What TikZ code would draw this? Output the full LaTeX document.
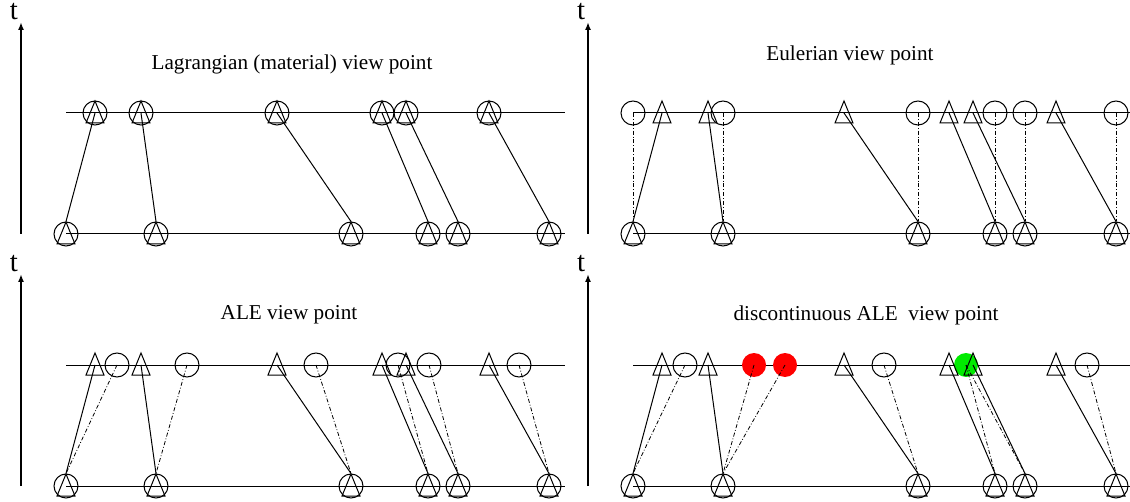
\documentclass[tikz,border=0pt]{standalone}
\usepackage{fontspec}
\setmainfont{Liberation Serif}
\usetikzlibrary{arrows.meta}
\definecolor{mergegreen}{RGB}{0,235,0}

\begin{document}
\begin{tikzpicture}[
    x=0.5pt, y=-0.5pt, line width=0.5pt,
    site/.style={circle, draw, minimum size=12pt, inner sep=0pt},
    blob/.style={circle, fill=#1, minimum size=12pt, inner sep=0pt},
    track/.style={line width=0.4pt, dash pattern=on 2pt off 1pt on 0.4pt off 1pt},
    taxis/.style={-{Latex[length=4pt,width=3pt]}, line width=1pt},
    tlabel/.style={font=\fontsize{14.4}{16}\selectfont, inner sep=0pt, anchor=base},
    title/.style={font=\fontsize{10.6}{12}\selectfont, inner sep=0pt},
    pics/tri/.style={code={\draw (0,-12) -- (9,10) -- (-9,10) -- cycle;}}
]
\useasboundingbox (0,0) rectangle (1130,502);

% common frame of the four panels: time axis, two time levels, lower nodes
\foreach \p/\dx/\dy in {L/0/0, E/567/0, A/0/252, D/567/252} {
  \begin{scope}[shift={(\dx,\dy)}]
    \coordinate (\p-o) at (21,234);
    \coordinate (\p-top) at (21,22);
    \draw[taxis] (\p-o) -- (\p-top);
    \node[tlabel] (\p-t) at (14,20) {t};
    \coordinate (\p-nw) at (66,113);
    \coordinate (\p-ne) at (565,113);
    \coordinate (\p-sw) at (66,234);
    \coordinate (\p-se) at (565,234);
    \draw (\p-nw) -- (\p-ne);
    \draw (\p-sw) -- (\p-se);
    \foreach \i/\xb in {1/66, 2/156, 3/351, 4/428, 5/458, 6/549} {
      \node[site] (\p-b\i) at (\xb,234) {};
      \pic at (\p-b\i) {tri};
    }
  \end{scope}
}

% Lagrangian
\node[title] (lag) at (292,64) {Lagrangian (material) view point};
\foreach \i/\xt in {1/95, 2/141, 3/277, 4/382, 5/406, 6/489} {
  \node[site] (L-a\i) at (\xt,113) {};
  \pic at (L-a\i) {tri};
  \draw (L-a\i.center) -- (L-b\i.north);
}

% Eulerian
\begin{scope}[shift={(567,0)}]
  \node[title] (eul) at (283,55) {Eulerian view point};
  \foreach \i/\xt/\xc in {1/95/66, 2/141/156, 3/277/351, 4/382/428, 5/406/458, 6/489/549} {
    \coordinate (E-p\i) at (\xt,113);
    \pic at (E-p\i) {tri};
    \node[site] (E-a\i) at (\xc,113) {};
    \draw (E-p\i) -- (E-b\i.north);
    \draw[track] (E-a\i.center) -- (E-b\i.north);
  }
\end{scope}

% ALE
\begin{scope}[shift={(0,252)}]
  \node[title] (ale) at (289,63) {ALE view point};
  \foreach \i/\xt/\xc in {1/95/117, 2/141/187, 3/277/316, 4/382/398, 5/406/429, 6/489/519} {
    \coordinate (A-p\i) at (\xt,113);
    \pic at (A-p\i) {tri};
    \node[site] (A-a\i) at (\xc,113) {};
    \draw (A-p\i) -- (A-b\i.north);
    \draw[track] (A-a\i.center) -- (A-b\i.north);
  }
\end{scope}

% discontinuous ALE: one node split (red), two merged (green)
\begin{scope}[shift={(567,252)}]
  \node[title] (dale) at (299,63) {discontinuous ALE\ \ view point};
  \node[site] (D-a1) at (118,113) {};
  \node[blob=red] (D-a2) at (187,113) {};
  \node[blob=red] (D-a3) at (218,113) {};
  \node[site] (D-a4) at (317,113) {};
  \node[blob=mergegreen] (D-a5) at (399,113) {};
  \node[site] (D-a6) at (520,113) {};
  \foreach \i/\xt in {1/95, 2/141, 3/277, 4/382, 5/406, 6/489} {
    \coordinate (D-p\i) at (\xt,113);
    \pic at (D-p\i) {tri};
    \draw (D-p\i) -- (D-b\i.north);
  }
  \foreach \a/\b in {1/1, 2/2, 3/2, 4/3, 5/4, 5/5, 6/6}
    \draw[track] (D-a\a.center) -- (D-b\b.north);
\end{scope}
\end{tikzpicture}
\end{document}
